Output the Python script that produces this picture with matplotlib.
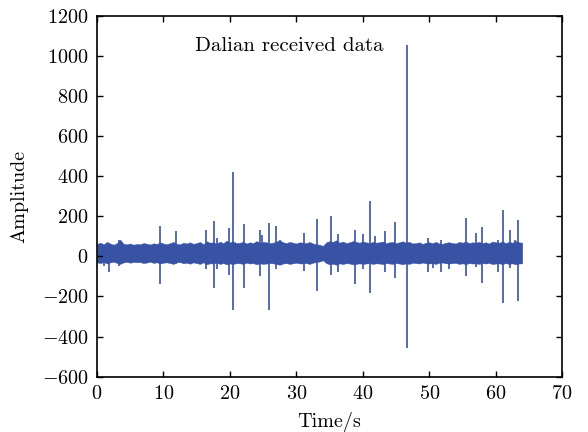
import numpy as np
import matplotlib
matplotlib.use("Agg")
import matplotlib.pyplot as plt

plt.rcParams['font.family'] = 'serif'
plt.rcParams['font.serif'] = ['cmr10', 'DejaVu Serif']
plt.rcParams['mathtext.fontset'] = 'cm'
plt.rcParams['axes.unicode_minus'] = False

# ---- data ----
env_start, env_step = 0.0, 0.5   # envelope sample grid (s)
band_upper = [62,68,60,72,64,58,66,83,62,60,
              64,58,62,60,66,63,59,65,62,70,
              64,60,66,72,62,60,68,64,70,62,
              66,72,60,75,68,70,64,73,66,78,
              70,74,66,68,72,64,70,66,76,68,
              72,70,66,68,74,80,70,66,72,68,
              64,70,68,66,72,64,60,58,52,70,
              76,72,80,68,74,66,70,76,72,68,
              74,70,66,72,68,70,74,66,70,72,
              66,70,75,68,72,64,66,70,62,68,
              70,66,72,64,62,68,70,66,64,72,
              68,74,66,70,68,72,66,70,64,74,
              70,68,74,66,72,68,76,70,68]
band_lower = [-30,-34,-28,-36,-30,-27,-33,-38,-30,-28,
              -32,-28,-30,-29,-34,-31,-27,-33,-30,-36,
              -32,-30,-34,-38,-30,-29,-35,-32,-37,-30,
              -34,-38,-30,-40,-35,-36,-32,-38,-34,-40,
              -36,-38,-34,-35,-38,-32,-36,-34,-40,-35,
              -38,-36,-34,-35,-39,-42,-36,-34,-38,-35,
              -32,-36,-35,-34,-38,-32,-28,-26,-20,-34,
              -40,-37,-42,-35,-39,-34,-36,-40,-38,-35,
              -38,-36,-34,-38,-35,-36,-39,-34,-36,-38,
              -34,-36,-40,-35,-38,-32,-34,-36,-31,-35,
              -36,-34,-38,-32,-31,-35,-36,-34,-33,-38,
              -35,-39,-34,-36,-35,-38,-34,-36,-33,-39,
              -36,-35,-39,-34,-38,-35,-40,-36,-35]

spike_time = [1.0, 1.8, 3.3, 9.5, 11.9, 16.4, 17.6, 18.1, 19.9, 20.4,
              22.1, 24.5, 24.9, 25.9, 27.0, 27.6, 31.2, 33.1, 35.2, 36.3,
              38.8, 40.0, 41.1, 41.8, 43.3, 44.8, 46.6, 49.8, 50.6, 51.7,
              52.9, 55.6, 57.0, 58.0, 60.4, 61.1, 62.1, 62.9, 63.4]
spike_high = [55, 60, 83, 153, 125, 130, 175, 93, 142, 422,
              162, 133, 105, 167, 150, 80, 117, 187, 203, 110,
              133, 113, 278, 100, 125, 170, 1053, 93, 60, 83,
              60, 192, 117, 145, 80, 230, 133, 80, 180]
spike_low = [-50, -77, -50, -137, -40, -62, -157, -65, -92, -270,
             -158, -100, -40, -267, -65, -40, -75, -175, -92, -80,
             -138, -65, -183, -40, -80, -108, -455, -80, -60, -80,
             -65, -100, -55, -133, -80, -233, -60, -40, -225]

xticks = [0, 10, 20, 30, 40, 50, 60, 70]
yticks = [-600, -400, -200, 0, 200, 400, 600, 800, 1000, 1200]
title_text = "Dalian received data"
color = '#3953a4'

# ---- plot ----
fig = plt.figure(figsize=(5.88, 4.32), dpi=100)
ax = fig.add_axes([0.165, 0.128, 0.791, 0.836])

t_env = env_start + env_step * np.arange(len(band_upper))
ax.fill_between(t_env, band_lower, band_upper, color=color, linewidth=0.3, edgecolor=color)
ax.vlines(spike_time, spike_low, spike_high, color=color, linewidth=1.2)

ax.set_xlim(0, 70)
ax.set_ylim(-600, 1200)
ax.set_xticks(xticks)
ax.set_xticklabels([f'${v}$' for v in xticks])
ax.set_yticks(yticks)
ax.set_yticklabels([f'${v}$' for v in yticks])
ax.tick_params(direction='in', top=True, right=True, labelsize=14.5, length=4, width=1)
ax.tick_params(axis='y', pad=6)
ax.tick_params(axis='x', pad=6)
for s in ax.spines.values():
    s.set_linewidth(1.2)

ax.set_xlabel('Time/s', fontsize=14.5, va='center')
ax.set_ylabel('Amplitude', fontsize=14.5, va='center')
ax.xaxis.set_label_coords(0.5, -0.125)
ax.yaxis.set_label_coords(-0.166, 0.5)
ax.text(14.75, 1048, title_text, fontsize=15, ha='left', va='center')

fig.savefig('out.png', dpi=100)
